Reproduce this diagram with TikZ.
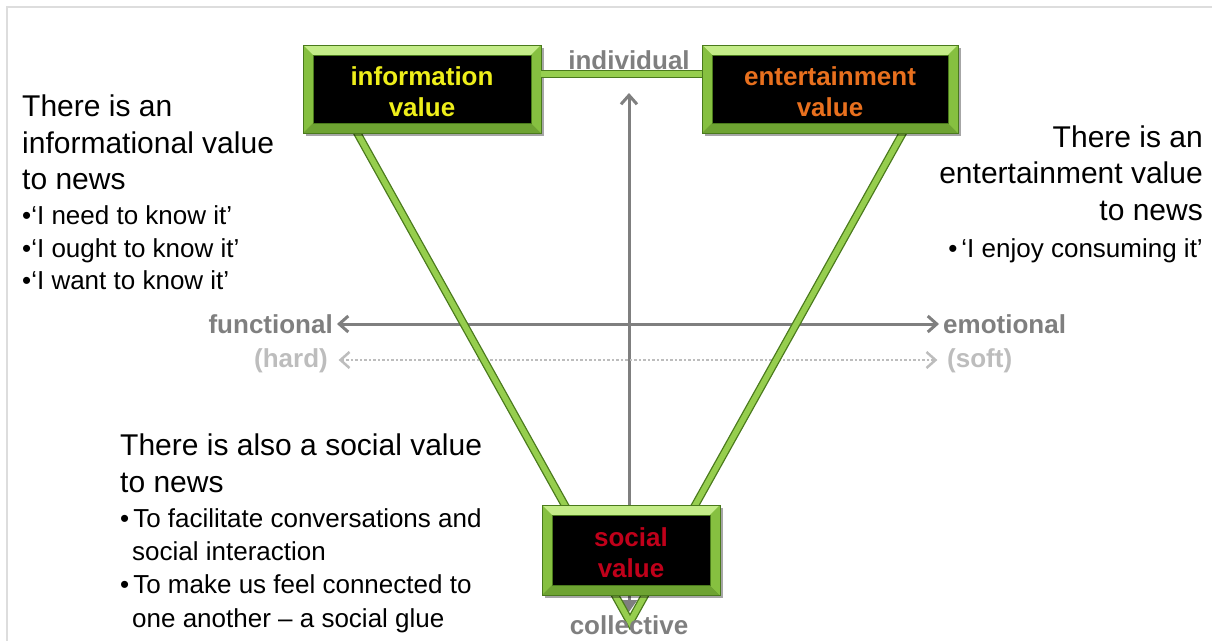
\documentclass[tikz,border=0pt]{standalone}
\usepackage{fontspec}
\setmainfont{Liberation Sans}
\usetikzlibrary{arrows.meta,shadows}
\definecolor{bgreen}{HTML}{96CE4E}
\definecolor{blight}{HTML}{C4EC88}
\definecolor{bmid}{HTML}{86C040}
\definecolor{bdeep}{HTML}{6EA332}
\definecolor{bdark}{HTML}{4A7A1C}
\definecolor{tyellow}{HTML}{EEEE1A}
\definecolor{torange}{HTML}{E8701E}
\definecolor{tred}{HTML}{C0001A}
\definecolor{axgray}{HTML}{7F7F7F}
\definecolor{axlight}{HTML}{BDBDBD}
\definecolor{frame}{HTML}{DDDDDD}
\tikzset{
  vbox/.style={draw=bdark, line width=0.8pt, fill=bgreen, inner sep=0pt,
    align=center, font=\fontsize{26}{31}\selectfont\bfseries,
    drop shadow={shadow xshift=3pt, shadow yshift=-3pt, fill=black, opacity=0.35},
    path picture={
      \fill[blight] (path picture bounding box.north west) -- (path picture bounding box.north east)
        -- ([shift={(-10pt,-10pt)}]path picture bounding box.north east)
        -- ([shift={(10pt,-10pt)}]path picture bounding box.north west) -- cycle;
      \fill[bmid] (path picture bounding box.north west) -- (path picture bounding box.south west)
        -- ([shift={(10pt,10pt)}]path picture bounding box.south west)
        -- ([shift={(10pt,-10pt)}]path picture bounding box.north west) -- cycle;
      \fill[bdeep] (path picture bounding box.south west) -- (path picture bounding box.south east)
        -- ([shift={(-10pt,10pt)}]path picture bounding box.south east)
        -- ([shift={(10pt,10pt)}]path picture bounding box.south west) -- cycle;
      \fill[bmid] (path picture bounding box.north east) -- (path picture bounding box.south east)
        -- ([shift={(-10pt,10pt)}]path picture bounding box.south east)
        -- ([shift={(-10pt,-10pt)}]path picture bounding box.north east) -- cycle;
      \filldraw[fill=black, draw=bdark, line width=0.6pt]
        ([shift={(10pt,-10pt)}]path picture bounding box.north west)
        rectangle ([shift={(-10pt,10pt)}]path picture bounding box.south east);
    }},
  gline/.style={draw=bdark, line width=1.3pt, double=bgreen, double distance=5.6pt, line join=miter},
  axis/.style={draw=axgray, line width=3pt, {Straight Barb[length=9pt,width=16pt]}-{Straight Barb[length=9pt,width=16pt]}},
  daxis/.style={draw=axlight, line width=2.5pt, dotted, {Straight Barb[length=9pt,width=16pt,line width=2.5pt,sep]}-{Straight Barb[length=9pt,width=16pt,line width=2.5pt,sep]}},
  axlab/.style={font=\fontsize{26}{30}\selectfont\bfseries, text=axgray, inner sep=0pt},
  axlabl/.style={font=\fontsize{26}{30}\selectfont\bfseries, text=axlight, inner sep=0pt},
  bigtxt/.style={font=\fontsize{30}{36}\selectfont, inner sep=0pt},
  smalltxt/.style={font=\fontsize{26}{31}\selectfont, inner sep=0pt}
}
\begin{document}
\begin{tikzpicture}[x=1pt,y=1pt]
\useasboundingbox (0,0) rectangle (1212,-641);
% frame
\draw[frame, line width=2pt] (1212,-7) -- (7,-7) -- (7,-641);
% axes
\coordinate (top) at (629,-93);
\coordinate (bot) at (629,-612);
\draw[draw=axgray, line width=3pt, {Triangle[length=12pt,width=16pt]}-{Straight Barb[length=9pt,width=16pt]}] (bot) -- (top);
\coordinate (hl) at (337,-324);
\coordinate (hr) at (939,-324);
\draw[axis] (hl) -- (hr);
\coordinate (dl) at (337,-360);
\coordinate (dr) at (939,-360);
\draw[daxis] (dl) -- (dr);
% V lines
\coordinate (vl) at (350,-120);
\coordinate (tip) at (630,-622);
\coordinate (vr) at (910,-120);
\draw[gline] (vl) -- (tip) -- (vr);
% boxes
\node[vbox, minimum width=238pt, minimum height=88pt, text=tyellow] (info) at (422,-89) {\rule{0pt}{25pt}information\\value};
\node[vbox, minimum width=256pt, minimum height=88pt, text=torange] (ent) at (830,-89) {\rule{0pt}{25pt}entertainment\\value};
\draw[gline] ([yshift=15pt]info.east) -- ([yshift=15pt]ent.west);
\node[vbox, minimum width=178pt, minimum height=90pt, text=tred] (soc) at (631,-550) {\rule{0pt}{25pt}social\\value};
% axis labels
\node[axlab, anchor=base] (indiv) at (629,-69) {individual};
\node[axlab, anchor=base] (coll) at (629,-634) {collective};
\node[axlab, anchor=base east] (func) at (333,-333) {functional};
\node[axlab, anchor=base west] (emo) at (943,-333) {emotional};
\node[axlabl, anchor=base east] (hard) at (328,-367) {(hard)};
\node[axlabl, anchor=base west] (soft) at (947,-367) {(soft)};
% left text
\node[bigtxt, anchor=base west] (l1) at (22,-116) {There is an};
\node[bigtxt, anchor=base west] (l2) at (22,-153) {informational value};
\node[bigtxt, anchor=base west] (l3) at (22,-189) {to news};
\node[smalltxt, anchor=base west] (l4) at (22,-224) {•‘I need to know it’};
\node[smalltxt, anchor=base west] (l5) at (22,-257) {•‘I ought to know it’};
\node[smalltxt, anchor=base west] (l6) at (22,-289) {•‘I want to know it’};
% right text
\node[bigtxt, anchor=base east] (r1) at (1203,-147) {There is an};
\node[bigtxt, anchor=base east] (r2) at (1203,-183) {entertainment value};
\node[bigtxt, anchor=base east] (r3) at (1203,-220) {to news};
\node[smalltxt, anchor=base east] (r4) at (1203,-257) {•\hspace{4pt}‘I enjoy consuming it’};
% bottom text
\node[bigtxt, anchor=base west] (b1) at (120,-455) {There is also a social value};
\node[bigtxt, anchor=base west] (b2) at (120,-492) {to news};
\node[smalltxt, anchor=base west] (b3) at (120,-527) {•\hspace{4pt}To facilitate conversations and};
\node[smalltxt, anchor=base west] (b4) at (132,-560) {social interaction};
\node[smalltxt, anchor=base west] (b5) at (120,-593) {•\hspace{4pt}To make us feel connected to};
\node[smalltxt, anchor=base west] (b6) at (132,-627) {one another – a social glue};
\end{tikzpicture}
\end{document}
